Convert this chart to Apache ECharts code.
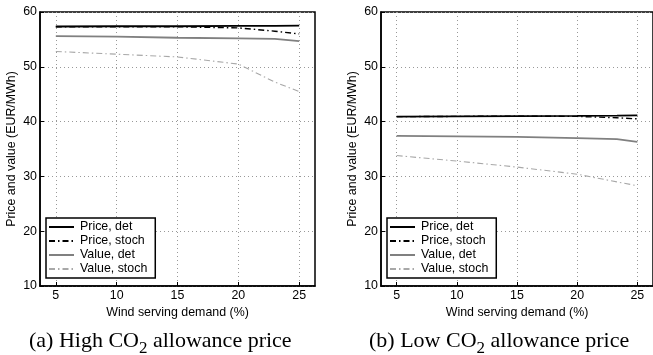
<!DOCTYPE html>
<html><head><meta charset="utf-8">
<script src="https://cdn.jsdelivr.net/npm/echarts@6/dist/echarts.min.js"></script>
<style>html,body{margin:0;padding:0;background:#fff}#c{width:653px;height:355px}</style>
</head><body><div id="c"></div>
<script>
const seriesNames = ['Price, det', 'Price, stoch', 'Value, det', 'Value, stoch'];
const xTicks = [5, 10, 15, 20, 25];
const yTicks = [10, 20, 30, 40, 50, 60];
// (a) High CO2 allowance price
const windA = [5, 10, 15, 20, 23, 25];
const priceDetA = [57.35, 57.4, 57.4, 57.45, 57.45, 57.5];
const priceStochA = [57.3, 57.3, 57.3, 57.1, 56.5, 56.0];
const valueDetA = [55.6, 55.5, 55.3, 55.2, 55.1, 54.7];
const valueStochA = [52.8, 52.3, 51.8, 50.5, 47.2, 45.5];
// (b) Low CO2 allowance price
const windB = [5, 10, 15, 20, 23.3, 25];
const priceDetB = [40.9, 40.95, 41.0, 41.05, 41.1, 41.15];
const priceStochB = [40.9, 40.95, 41.0, 40.95, 40.7, 40.5];
const valueDetB = [37.4, 37.3, 37.2, 37.0, 36.8, 36.3];
const valueStochB = [33.8, 32.8, 31.7, 30.4, 29.0, 28.3];

const styles = [
  {color: '#000', width: 1.8, type: 'solid'},
  {color: '#000', width: 1.4, type: [6, 3, 1.5, 3]},
  {color: '#808080', width: 1.8, type: 'solid'},
  {color: '#a8a8a8', width: 1.1, type: [6, 3, 1.5, 3]}
];
const font = 'Liberation Sans';
function zip(xs, ys){ return xs.map((x,i)=>[x, ys[i]]); }

const grids = [
  {left: 40, top: 12, width: 275, height: 274, show: true, borderColor: '#000', borderWidth: 1.5, backgroundColor: 'transparent'},
  {left: 381, top: 12, width: 275, height: 274, show: true, borderColor: '#000', borderWidth: 1.5, backgroundColor: 'transparent'}
];
function xAx(i){
  return {type: 'value', gridIndex: i, min: 3.7, max: 26.3,
    name: 'Wind serving demand (%)', nameLocation: 'middle', nameGap: 19,
    nameTextStyle: {fontFamily: font, fontSize: 12.4, color: '#000'},
    axisLine: {show: true, onZero: false, lineStyle: {color: '#000', width: 1.5}},
    axisTick: {show: true, inside: true, length: 4, customValues: xTicks, lineStyle: {color: '#000'}},
    axisLabel: {customValues: xTicks, fontFamily: font, fontSize: 12.4, color: '#000', margin: 4},
    splitLine: {show: true, lineStyle: {color: '#999', type: [1, 3], width: 1}}
  };
}
function yAx(i){
  return {type: 'value', gridIndex: i, min: 10, max: 60, interval: 10,
    name: 'Price and value (EUR/MWh)', nameLocation: 'middle', nameGap: 22,
    nameTextStyle: {fontFamily: font, fontSize: 12.4, color: '#000'},
    axisLine: {show: true, lineStyle: {color: '#000', width: 1.5}},
    axisTick: {show: true, inside: true, length: 4, lineStyle: {color: '#000'}},
    axisLabel: {fontFamily: font, fontSize: 12.4, color: '#000', margin: 3},
    splitLine: {show: true, lineStyle: {color: '#999', type: [1, 3], width: 1}}
  };
}
const dataA = [priceDetA, priceStochA, valueDetA, valueStochA];
const dataB = [priceDetB, priceStochB, valueDetB, valueStochB];
const series = [];
[[windA, dataA, 0], [windB, dataB, 1]].forEach(([xs, ds, gi]) => {
  ds.forEach((ys, k) => {
    series.push({type: 'line', name: seriesNames[k], xAxisIndex: gi, yAxisIndex: gi,
      data: zip(xs, ys), showSymbol: false, symbol: 'none', animation: false,
      lineStyle: styles[k], itemStyle: {color: styles[k].color}, z: 10 - k});
  });
});
function legend(left){
  return {left: left, top: 218, orient: 'vertical', width: 110,
    data: seriesNames,
    itemWidth: 25, itemHeight: 10, itemGap: 2, padding: [3, 8, 3, 2],
    borderColor: '#000', borderWidth: 1.5, backgroundColor: '#fff',
    itemStyle: {opacity: 0},
    textStyle: {fontFamily: font, fontSize: 12.4, color: '#000', padding: [0,0,0,1]},
    selectedMode: false};
}
const capRich = {
  n: {fontFamily: 'Liberation Serif', fontSize: 22, color: '#000', verticalAlign: 'top'},
  s: {fontFamily: 'Liberation Serif', fontSize: 17, color: '#000', padding: [10, 0, 0, 0], verticalAlign: 'top'}
};
const chart = echarts.init(document.getElementById('c'), null, {renderer: 'canvas'});
chart.setOption({
  animation: false,
  backgroundColor: '#fff',
  grid: grids,
  xAxis: [xAx(0), xAx(1)],
  yAxis: [yAx(0), yAx(1)],
  legend: [legend(46), legend(387)],
  series: series,
  graphic: [
    {type: 'text', left: 29, top: 330, style: {text: '{n|(a) High CO}{s|2}{n| allowance price}', rich: capRich}},
    {type: 'text', left: 369, top: 330, style: {text: '{n|(b) Low CO}{s|2}{n| allowance price}', rich: capRich}}
  ]
});
</script></body></html>
